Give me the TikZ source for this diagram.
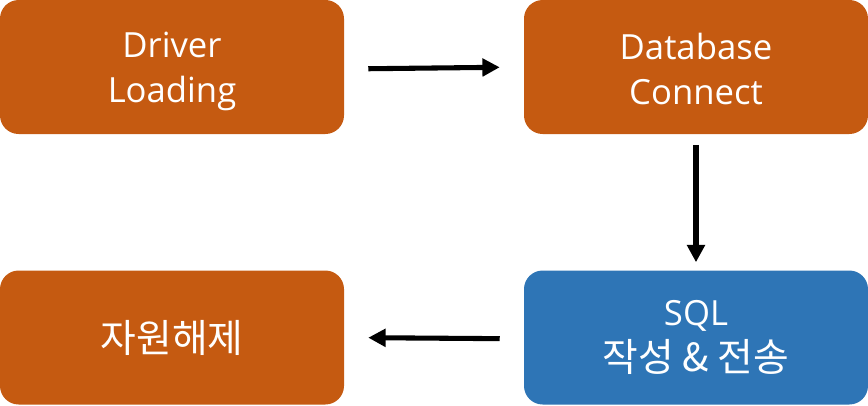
\documentclass[tikz,border=0pt]{standalone}
\usepackage{fontspec}
\setmainfont{Open Sans}
\newfontfamily\kr[Scale=1.12]{Noto Sans CJK KR}
\usetikzlibrary{arrows.meta}
\definecolor{boxorange}{HTML}{C55A11}
\definecolor{boxblue}{HTML}{2E75B6}
\begin{document}
\begin{tikzpicture}[x=0.75pt,y=-0.75pt,
  stepbox/.style={draw=none,rounded corners=14pt,minimum width=258pt,minimum height=100.5pt,
    text=white,align=center,inner sep=0pt,font=\fontsize{26}{34}\selectfont},
  arr/.style={line width=3.8pt,-{Triangle[length=13pt,width=13pt]}}]
\useasboundingbox (0,0) rectangle (868,405);
\node[stepbox,fill=boxorange] (a) at (172,67) {\raisebox{0pt}[26pt][0pt]{Driver}\\Loading};
\node[stepbox,fill=boxorange] (b) at (696,67) {\raisebox{0pt}[23pt][0pt]{Database}\\Connect};
\node[stepbox,fill=boxblue] (c) at (696,337.5) {SQL\\{\kr 작성 \&\ 전송}};
\node[stepbox,fill=boxorange] (d) at (172,337.5) {\kr 자원해제};
\draw[arr,shorten <=18pt,shorten >=18pt] ([yshift=-1.5pt]a.east) -- (b.west);
\draw[arr,shorten <=8pt,shorten >=6pt] (b.south) -- (c.north);
\draw[arr,shorten <=18pt,shorten >=18pt] ([yshift=-1pt]c.west) -- (d.east);
\end{tikzpicture}
\end{document}
